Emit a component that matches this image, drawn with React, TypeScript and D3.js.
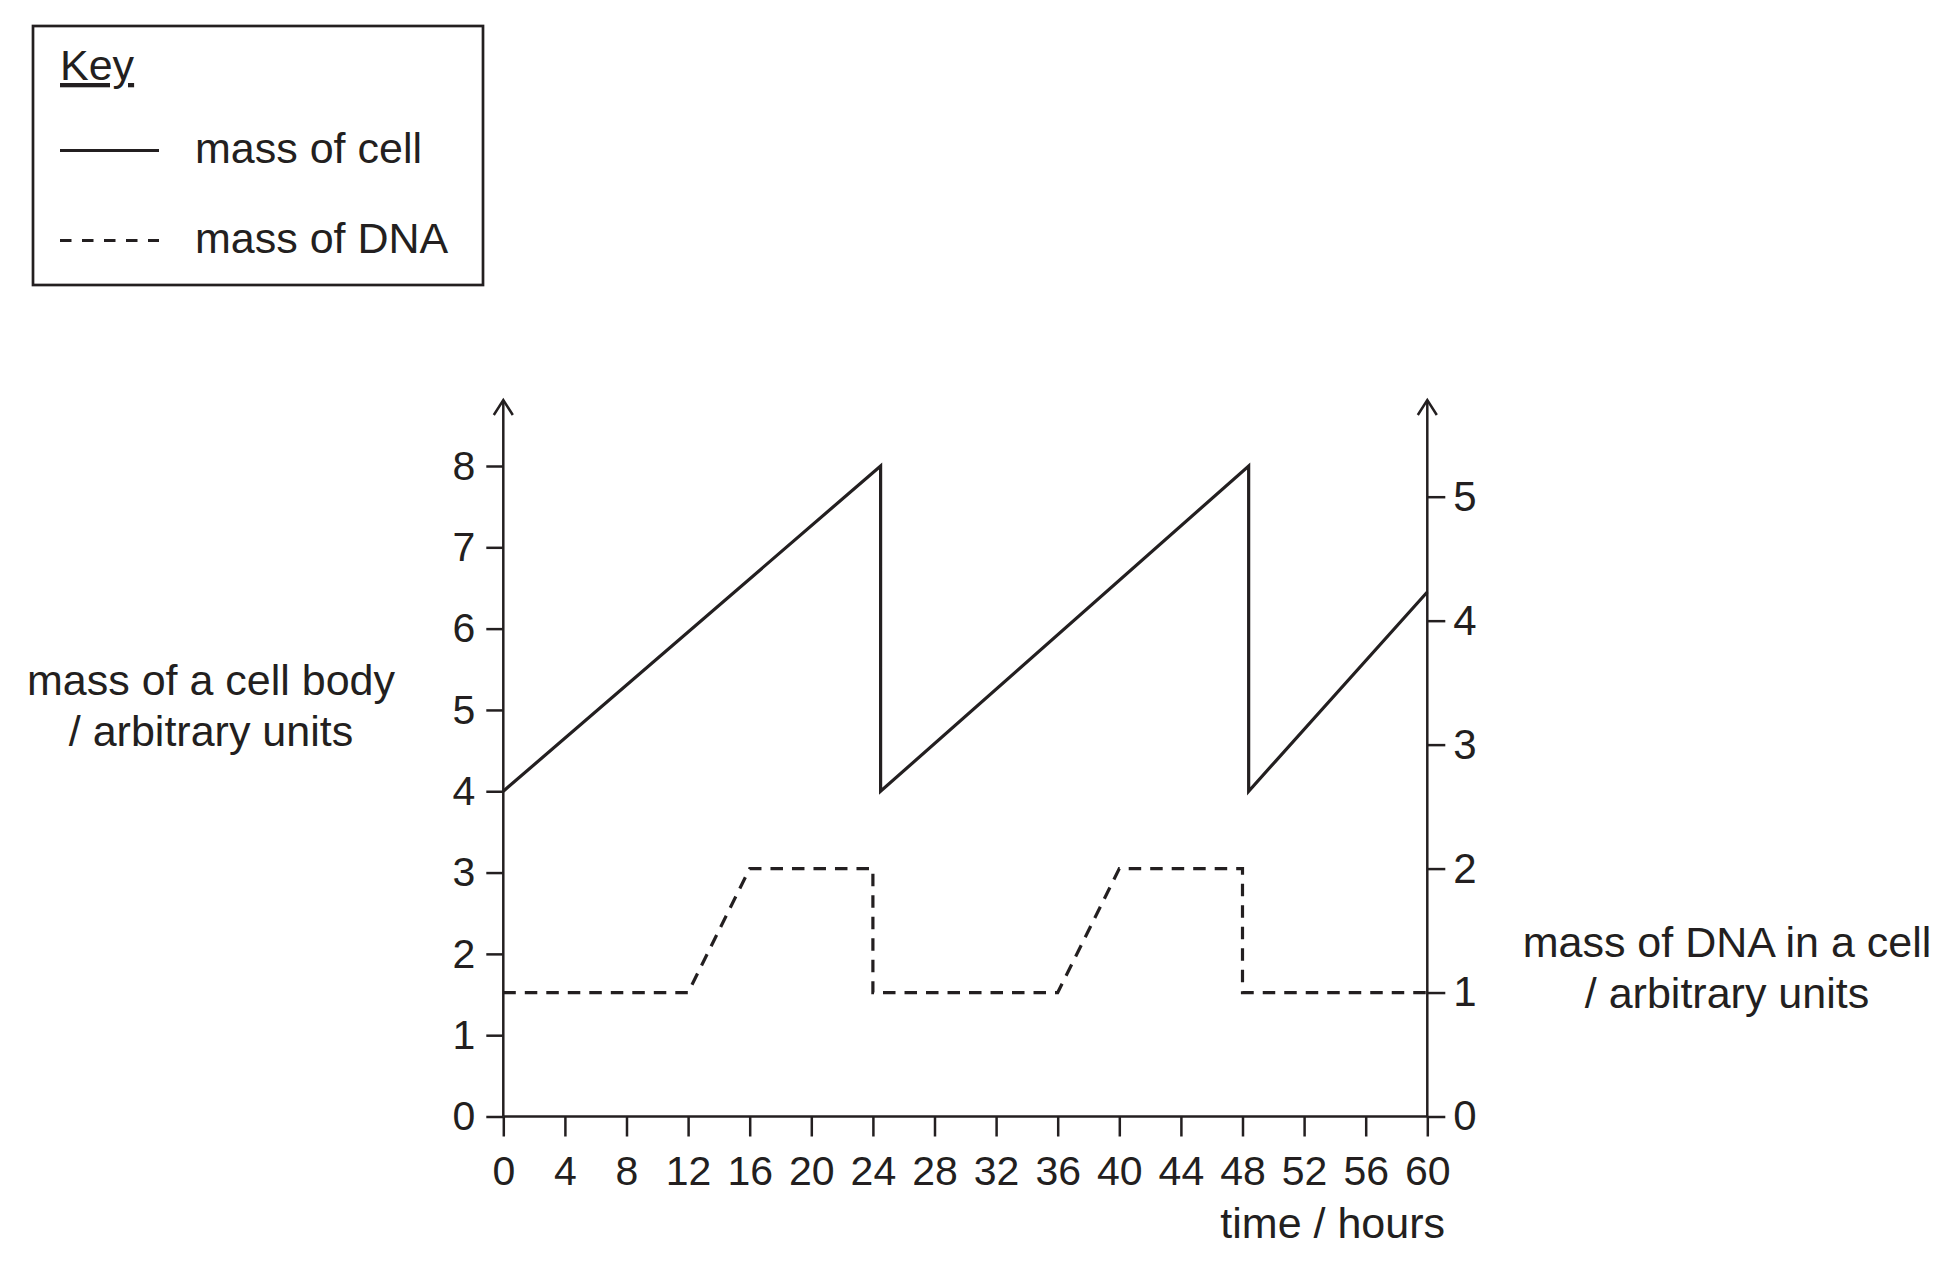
import React, { useEffect, useRef } from "react";
import * as d3 from "d3";

// ---- data ----
const cellTime = [0, 24.5, 24.5, 48.4, 48.4, 60];
const cellMass = [4, 8, 4, 8, 4, 6.45];
const dnaTime = [0, 12, 16, 24, 24, 36, 40, 48, 48, 60];
const dnaMass = [1, 1, 2, 2, 1, 1, 2, 2, 1, 1];
const timeTicks = [0, 4, 8, 12, 16, 20, 24, 28, 32, 36, 40, 44, 48, 52, 56, 60];
const leftTicks = [0, 1, 2, 3, 4, 5, 6, 7, 8];
const rightTicks = [0, 1, 2, 3, 4, 5];
const leftLabel = ["mass of a cell body", "/ arbitrary units"];
const rightLabel = ["mass of DNA in a cell", "/ arbitrary units"];
const xLabel = "time / hours";
const keyTitle = "Key";
const keyItems = ["mass of cell", "mass of DNA"];

const W = 1957;
const H = 1275;
const INK = "#231f20";
const FONT = "'Liberation Sans', Arial, Helvetica, sans-serif";

export default function App() {
  const ref = useRef<SVGSVGElement | null>(null);

  useEffect(() => {
    const svg = d3.select(ref.current);
    svg.selectAll("*").remove();

    const x = d3.scaleLinear().domain([0, 60]).range([503.3, 1427.3]);
    const yL = d3.scaleLinear().domain([0, 8]).range([1116.5, 466]);
    const yR = d3.scaleLinear().domain([0, 5]).range([1116.5, 496.7]);
    const axisTop = 400;

    const g = svg.append("g").attr("font-family", FONT).attr("fill", INK);

    const styleAxis = (sel: any, fs: number) => {
      sel.select(".domain").remove();
      sel.selectAll(".tick line").attr("stroke", INK).attr("stroke-width", 2.5);
      sel.selectAll(".tick text").attr("fill", INK).attr("font-size", fs).attr("font-family", FONT);
    };

    const left = g
      .append("g")
      .attr("transform", `translate(${x(0)},0)`)
      .call(d3.axisLeft(yL).tickValues(leftTicks).tickSize(17).tickPadding(11).tickFormat(d3.format("d")));
    styleAxis(left, 41);

    const right = g
      .append("g")
      .attr("transform", `translate(${x(60)},0)`)
      .call(d3.axisRight(yR).tickValues(rightTicks).tickSize(18).tickPadding(8).tickFormat(d3.format("d")));
    styleAxis(right, 42);

    const bottom = g
      .append("g")
      .attr("transform", `translate(0,${yL(0)})`)
      .call(d3.axisBottom(x).tickValues(timeTicks).tickSize(20).tickPadding(19).tickFormat(d3.format("d")));
    styleAxis(bottom, 41);

    const axisLines = g.append("g").attr("stroke", INK).attr("stroke-width", 2.5).attr("fill", "none");
    axisLines.append("line").attr("x1", x(0)).attr("x2", x(60)).attr("y1", yL(0)).attr("y2", yL(0));
    [x(0), x(60)].forEach((ax) => {
      axisLines.append("line").attr("x1", ax).attr("x2", ax).attr("y1", yL(0)).attr("y2", axisTop);
      axisLines
        .append("path")
        .attr("d", `M${ax - 9.5},${axisTop + 15}L${ax},${axisTop}L${ax + 9.5},${axisTop + 15}`);
    });

    const cellLine = d3
      .line<number>()
      .x((_, i) => x(cellTime[i]))
      .y((d) => yL(d));
    g.append("path")
      .attr("d", cellLine(cellMass))
      .attr("fill", "none")
      .attr("stroke", INK)
      .attr("stroke-width", 3.2)
      .attr("stroke-linejoin", "miter");

    const dnaLine = d3
      .line<number>()
      .x((_, i) => x(dnaTime[i]))
      .y((d) => yR(d));
    g.append("path")
      .attr("d", dnaLine(dnaMass))
      .attr("fill", "none")
      .attr("stroke", INK)
      .attr("stroke-width", 3.2)
      .attr("stroke-dasharray", "12.5 9");

    const lt = g.append("text").attr("font-size", 43).attr("text-anchor", "middle");
    leftLabel.forEach((t, i) => lt.append("tspan").attr("x", 211).attr("y", 695 + i * 51).text(t));
    const rt = g.append("text").attr("font-size", 43).attr("text-anchor", "middle");
    rightLabel.forEach((t, i) => rt.append("tspan").attr("x", 1727).attr("y", 957 + i * 51).text(t));
    g.append("text")
      .attr("font-size", 43)
      .attr("text-anchor", "end")
      .attr("x", 1445)
      .attr("y", 1238)
      .text(xLabel);

    const key = g.append("g");
    key
      .append("rect")
      .attr("x", 33)
      .attr("y", 26)
      .attr("width", 450)
      .attr("height", 259)
      .attr("fill", "none")
      .attr("stroke", INK)
      .attr("stroke-width", 2.7);
    key
      .append("text")
      .attr("x", 60)
      .attr("y", 80)
      .attr("font-size", 43)
      .attr("text-decoration", "underline")
      .text(keyTitle);
    key
      .append("line")
      .attr("x1", 60)
      .attr("x2", 159)
      .attr("y1", 150.5)
      .attr("y2", 150.5)
      .attr("stroke", INK)
      .attr("stroke-width", 3);
    key
      .append("line")
      .attr("x1", 60)
      .attr("x2", 159)
      .attr("y1", 240.5)
      .attr("y2", 240.5)
      .attr("stroke", INK)
      .attr("stroke-width", 3)
      .attr("stroke-dasharray", "11.5 10.5");
    keyItems.forEach((t, i) =>
      key
        .append("text")
        .attr("x", 195)
        .attr("y", 163 + i * 90)
        .attr("font-size", 43)
        .text(t)
    );
  }, []);

  return (
    <svg
      ref={ref}
      width={W}
      height={H}
      viewBox={`0 0 ${W} ${H}`}
      style={{ position: "absolute", left: 0, top: 0, background: "#fff", display: "block" }}
    />
  );
}
